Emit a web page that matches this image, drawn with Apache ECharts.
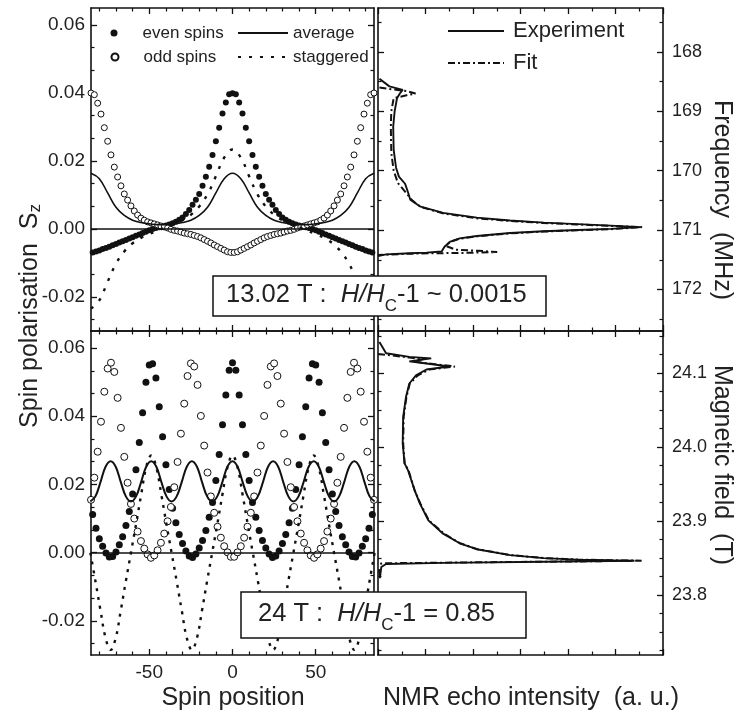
<!DOCTYPE html>
<html>
<head>
<meta charset="utf-8">
<script src="https://cdn.jsdelivr.net/npm/echarts@6/dist/echarts.min.js"></script>
<style>html,body{margin:0;padding:0;background:#fff;}#c{width:740px;height:719px;}</style>
</head>
<body>
<div id="c"></div>
<script>
// ---------------- DATA ----------------
const evenPos = [-84,-82,-80,-78,-76,-74,-72,-70,-68,-66,-64,-62,-60,-58,-56,-54,-52,-50,-48,-46,-44,-42,-40,-38,-36,-34,-32,-30,-28,-26,-24,-22,-20,-18,-16,-14,-12,-10,-8,-6,-4,-2,0,2,4,6,8,10,12,14,16,18,20,22,24,26,28,30,32,34,36,38,40,42,44,46,48,50,52,54,56,58,60,62,64,66,68,70,72,74,76,78,80,82,84];
const oddPos = [-85,-83,-81,-79,-77,-75,-73,-71,-69,-67,-65,-63,-61,-59,-57,-55,-53,-51,-49,-47,-45,-43,-41,-39,-37,-35,-33,-31,-29,-27,-25,-23,-21,-19,-17,-15,-13,-11,-9,-7,-5,-3,-1,1,3,5,7,9,11,13,15,17,19,21,23,25,27,29,31,33,35,37,39,41,43,45,47,49,51,53,55,57,59,61,63,65,67,69,71,73,75,77,79,81,83,85];

// 13.02 T panel
const topEven = [-0.0069,-0.0066,-0.0063,-0.0059,-0.0056,-0.0052,-0.0048,-0.0044,-0.0040,-0.0036,-0.0032,-0.0028,-0.0024,-0.0020,-0.0016,-0.0012,-0.0008,-0.0004,0.0000,0.0003,0.0005,0.0007,0.0010,0.0013,0.0017,0.0021,0.0027,0.0034,0.0044,0.0056,0.0071,0.0086,0.0103,0.0127,0.0154,0.0183,0.0218,0.0258,0.0298,0.0340,0.0372,0.0396,
  0.0399,
  0.0396,0.0372,0.0340,0.0298,0.0258,0.0218,0.0183,0.0154,0.0127,0.0103,0.0086,0.0071,0.0056,0.0044,0.0034,0.0027,0.0021,0.0017,0.0013,0.0010,0.0007,0.0005,0.0003,0.0000,-0.0004,-0.0008,-0.0012,-0.0016,-0.0020,-0.0024,-0.0028,-0.0032,-0.0036,-0.0040,-0.0044,-0.0048,-0.0052,-0.0056,-0.0059,-0.0063,-0.0066,-0.0069];
const topOdd = [0.0400,0.0395,0.0370,0.0338,0.0298,0.0258,0.0218,0.0182,0.0153,0.0127,0.0103,0.0085,0.0068,0.0053,0.0041,0.0032,0.0026,0.0021,0.0018,0.0015,0.0012,0.0009,0.0006,0.0003,-0.0001,-0.0004,-0.0006,-0.0009,-0.0012,-0.0014,-0.0016,-0.0019,-0.0022,-0.0026,-0.0031,-0.0036,-0.0041,-0.0047,-0.0052,-0.0057,-0.0062,-0.0067,-0.0069,
  -0.0069,-0.0067,-0.0062,-0.0057,-0.0052,-0.0047,-0.0041,-0.0036,-0.0031,-0.0026,-0.0022,-0.0019,-0.0016,-0.0014,-0.0012,-0.0009,-0.0006,-0.0004,-0.0001,0.0003,0.0006,0.0009,0.0012,0.0015,0.0018,0.0021,0.0026,0.0032,0.0041,0.0053,0.0068,0.0085,0.0103,0.0127,0.0153,0.0182,0.0218,0.0258,0.0298,0.0338,0.0370,0.0395,0.0400];
const topLineX = [-85,-80,-75,-70,-65,-60,-55,-50,-45,-40,-35,-30,-25,-20,-15,-10,-5,0,5,10,15,20,25,30,35,40,45,50,55,60,65,70,75,80,85];
const topAvg = [0.0164,0.0148,0.0106,0.0064,0.0040,0.0026,0.0019,0.0015,0.0013,0.0013,0.0015,0.0019,0.0026,0.0040,0.0064,0.0106,0.0148,0.0164,0.0148,0.0106,0.0064,0.0040,0.0026,0.0019,0.0015,0.0013,0.0013,0.0015,0.0019,0.0026,0.0040,0.0064,0.0106,0.0148,0.0164];
const topStag = [-0.0234,-0.0210,-0.0155,-0.0102,-0.0066,-0.0042,-0.0026,-0.0015,-0.0005,0.0005,0.0015,0.0026,0.0042,0.0066,0.0102,0.0155,0.0210,0.0234,0.0210,0.0155,0.0102,0.0066,0.0042,0.0026,0.0015,0.0005,-0.0005,-0.0015,-0.0026,-0.0042,-0.0066,-0.0102,-0.0155,-0.0210,-0.0234];

// 24 T panel
const botEven = [0.0112,0.0072,0.0041,0.0019,-0.0001,-0.0013,-0.0011,0.0002,0.0023,0.0047,0.0080,0.0121,0.0172,0.0243,0.0323,0.0410,0.0500,0.0550,0.0554,0.0512,0.0428,0.0340,0.0258,0.0185,0.0130,0.0088,0.0053,0.0027,0.0005,-0.0010,-0.0014,-0.0004,0.0014,0.0036,0.0065,0.0104,0.0147,0.0212,0.0288,0.0375,0.0462,0.0535,
  0.0557,
  0.0535,0.0462,0.0375,0.0288,0.0212,0.0147,0.0104,0.0065,0.0036,0.0014,-0.0004,-0.0014,-0.0010,0.0005,0.0027,0.0053,0.0088,0.0130,0.0185,0.0258,0.0340,0.0428,0.0512,0.0554,0.0550,0.0500,0.0410,0.0323,0.0243,0.0172,0.0121,0.0080,0.0047,0.0023,0.0002,-0.0011,-0.0013,-0.0001,0.0019,0.0041,0.0072,0.0112];
const botOdd = [0.0155,0.0220,0.0296,0.0384,0.0472,0.0540,0.0557,0.0530,0.0454,0.0366,0.0281,0.0205,0.0143,0.0100,0.0062,0.0034,0.0012,-0.0005,-0.0015,-0.0008,0.0007,0.0029,0.0056,0.0092,0.0134,0.0192,0.0266,0.0349,0.0437,0.0518,0.0555,0.0546,0.0492,0.0401,0.0314,0.0235,0.0165,0.0117,0.0076,0.0044,0.0019,0.0001,-0.0012,
  -0.0012,0.0001,0.0019,0.0044,0.0076,0.0117,0.0165,0.0235,0.0314,0.0401,0.0492,0.0546,0.0555,0.0518,0.0437,0.0349,0.0266,0.0192,0.0134,0.0092,0.0056,0.0029,0.0007,-0.0008,-0.0015,-0.0005,0.0012,0.0034,0.0062,0.0100,0.0143,0.0205,0.0281,0.0366,0.0454,0.0530,0.0557,0.0540,0.0472,0.0384,0.0296,0.0220,0.0155];
const botLineX = [-85.4,-82.35,-79.3,-76.25,-73.2,-70.15,-67.1,-64.05,-61,-57.95,-54.9,-51.85,-48.8,-45.75,-42.7,-39.65,-36.6,-33.55,-30.5,-27.45,-24.4,-21.35,-18.3,-15.25,-12.2,-9.15,-6.1,-3.05,0,3.05,6.1,9.15,12.2,15.25,18.3,21.35,24.4,27.45,30.5,33.55,36.6,39.65,42.7,45.75,48.8,51.85,54.9,57.95,61,64.05,67.1,70.15,73.2,76.25,79.3,82.35,85.4];
const botAvg = [0.0150,0.0165,0.0207,0.0252,0.0268,0.0252,0.0207,0.0165,0.0150,0.0165,0.0207,0.0252,0.0268,0.0252,0.0207,0.0165,0.0150,0.0165,0.0207,0.0252,0.0268,0.0252,0.0207,0.0165,0.0150,0.0165,0.0207,0.0252,0.0268,0.0252,0.0207,0.0165,0.0150,0.0165,0.0207,0.0252,0.0268,0.0252,0.0207,0.0165,0.0150,0.0165,0.0207,0.0252,0.0268,0.0252,0.0207,0.0165,0.0150,0.0165,0.0207,0.0252,0.0268,0.0252,0.0207,0.0165,0.0150];
const botStag = [0,-0.0083,-0.0169,-0.0250,-0.0285,-0.0250,-0.0169,-0.0083,0,0.0083,0.0169,0.0250,0.0285,0.0250,0.0169,0.0083,0,-0.0083,-0.0169,-0.0250,-0.0285,-0.0250,-0.0169,-0.0083,0,0.0083,0.0169,0.0250,0.0285,0.0250,0.0169,0.0083,0,-0.0083,-0.0169,-0.0250,-0.0285,-0.0250,-0.0169,-0.0083,0,0.0083,0.0169,0.0250,0.0285,0.0250,0.0169,0.0083,0,-0.0083,-0.0169,-0.0250,-0.0285,-0.0250,-0.0169,-0.0083,0];

// NMR spectra (intensity in a.u., frequency in MHz / field in T)
const freqExp = [168.45,168.58,168.64,168.70,168.78,169.00,169.26,169.65,169.95,170.10,170.22,170.36,170.49,170.60,170.71,170.79,170.84,170.875,170.90,170.925,170.95,170.98,171.00,171.02,171.05,171.10,171.14,171.20,171.28,171.36,171.38,171.39,171.41,171.44];
const intExp  = [0.03,0.24,0.52,0.46,0.40,0.35,0.32,0.33,0.38,0.44,0.57,0.63,0.68,0.88,1.37,2.08,2.78,3.49,4.20,4.90,5.54,4.90,4.20,3.49,2.78,2.08,1.72,1.51,1.40,1.34,1.02,0.67,0.17,0];
const freqFit = [168.60,168.63,168.66,168.70,168.73,168.78,169.00,169.26,169.70,170.00,170.21,170.41,170.50,170.61,170.72,170.80,170.845,170.88,170.905,170.93,170.95,170.985,171.005,171.025,171.055,171.105,171.145,171.20,171.27,171.33,171.35,171.37,171.385,171.39,171.40,171.42];
const intFit  = [0.03,0.30,0.60,0.79,0.60,0.33,0.28,0.27,0.28,0.33,0.42,0.63,0.72,0.90,1.38,2.06,2.76,3.47,4.18,4.90,5.56,4.90,4.20,3.49,2.78,2.08,1.72,1.51,1.44,1.63,2.12,2.51,1.80,1.20,0.60,0];
const fieldExp = [24.142,24.127,24.122,24.120,24.116,24.113,24.109,24.105,24.097,24.086,24.068,24.041,24.005,23.978,23.969,23.942,23.924,23.901,23.883,23.870,23.862,23.854,23.850,23.848,23.847,23.8465,23.845,23.8435,23.842,23.838,23.823,23.835];
const intExpB  = [0.03,0.17,0.66,1.12,0.66,1.02,1.50,1.02,0.80,0.66,0.59,0.53,0.52,0.56,0.63,0.77,0.88,1.06,1.37,1.72,2.08,2.78,3.49,4.20,4.90,5.40,3.49,1.37,0.17,0.07,0.04,0.02];
const fieldFit = [24.126,24.124,24.121,24.119,24.116,24.113,24.109,24.105,24.097,24.086,24.068,24.041,24.005,23.978,23.969,23.942,23.924,23.901,23.883,23.870,23.862,23.854,23.850,23.848,23.847,23.8465,23.8455,23.8445,23.8435,23.843,23.842];
const intFitB  = [0,0.30,0.66,0.96,0.72,1.08,1.62,1.08,0.84,0.67,0.60,0.54,0.53,0.56,0.64,0.77,0.89,1.07,1.39,1.73,2.09,2.80,3.50,4.21,4.91,5.55,4.20,2.40,0.90,0.12,0];

// tick values
const spinMajor = [-50,0,50];
const spinMinor = [-80,-70,-60,-40,-30,-20,-10,10,20,30,40,60,70,80];
const polMajor = [-0.02,0,0.02,0.04,0.06];
const polMinor = [-0.02667,-0.01333,-0.00667,0.00667,0.01333,0.02667,0.03333,0.04667,0.05333];
const freqMajor = [168,169,170,171,172];
const freqMinor = [167.5,168.5,169.5,170.5,171.5,172.5];
const fieldMajor = [23.8,23.9,24.0,24.1];
const fieldMinor = [23.725,23.75,23.775,23.825,23.85,23.875,23.925,23.95,23.975,24.025,24.05,24.075,24.125,24.15];
const intMajor = [0,1,2,3,4,5,6];
const intMinor = [0.5,1.5,2.5,3.5,4.5,5.5];

// ---------------- LAYOUT / STYLE ----------------
const FONT = '"Liberation Sans", Arial, Helvetica, sans-serif';
const INK = '#111';
const zip = (a, b) => a.map((v, i) => [v, b[i]]);

const grids = [
  {left: 91, top: 8, width: 283, height: 323},
  {left: 91, top: 331, width: 283, height: 324},
  {left: 378, top: 8, width: 285, height: 323},
  {left: 378, top: 331, width: 285, height: 324}
].map(g => Object.assign({containLabel: false, outerBoundsMode: 'none'}, g));

const xAxes = [], yAxes = [];
function addAxis(list, gridIndex, position, min, max, major, minor, lab) {
  const idx = list.length;
  list.push({
    type: 'value', gridIndex, position, min, max, inverse: !!(lab && lab.inverse),
    axisLine: {show: true, onZero: false, lineStyle: {color: INK, width: 1.6}},
    axisTick: {show: true, inside: true, length: 6, customValues: major, lineStyle: {color: INK, width: 1.3}},
    axisLabel: {show: !!(lab && lab.show), customValues: major,
      formatter: lab && lab.fmt, fontSize: lab && lab.size, margin: lab && lab.margin,
      color: '#222', fontFamily: FONT},
    splitLine: {show: false}, axisPointer: {show: false}
  });
  list.push({
    type: 'value', gridIndex, position, min, max, inverse: !!(lab && lab.inverse),
    axisLine: {show: false, onZero: false},
    axisTick: {show: true, inside: true, length: 3.5, customValues: minor, lineStyle: {color: INK, width: 1.2}},
    axisLabel: {show: false}, splitLine: {show: false}
  });
  return idx;
}
const polFmt = v => v.toFixed(2);
// grid 0 : top-left
const xTL = addAxis(xAxes, 0, 'bottom', -85, 85, spinMajor, spinMinor);
addAxis(xAxes, 0, 'top', -85, 85, spinMajor, spinMinor);
const yTL = addAxis(yAxes, 0, 'left', -0.03, 0.065, polMajor, polMinor, {show: true, fmt: polFmt, size: 19, margin: 6});
addAxis(yAxes, 0, 'right', -0.03, 0.065, polMajor, polMinor);
// grid 1 : bottom-left
const xBL = addAxis(xAxes, 1, 'bottom', -85, 85, spinMajor, spinMinor, {show: true, fmt: v => String(v), size: 19, margin: 8});
addAxis(xAxes, 1, 'top', -85, 85, spinMajor, spinMinor);
const yBL = addAxis(yAxes, 1, 'left', -0.03, 0.065, polMajor, polMinor, {show: true, fmt: polFmt, size: 19, margin: 6});
addAxis(yAxes, 1, 'right', -0.03, 0.065, polMajor, polMinor);
// grid 2 : top-right
const xTR = addAxis(xAxes, 2, 'bottom', 0, 6, intMajor, intMinor);
addAxis(xAxes, 2, 'top', 0, 6, intMajor, intMinor);
const yTR = addAxis(yAxes, 2, 'right', 167.26, 172.70, freqMajor, freqMinor, {show: true, fmt: v => String(v), size: 18, margin: 9, inverse: true});
addAxis(yAxes, 2, 'left', 167.26, 172.70, freqMajor, freqMinor, {inverse: true});
// grid 3 : bottom-right
const xBR = addAxis(xAxes, 3, 'bottom', 0, 6, intMajor, intMinor);
addAxis(xAxes, 3, 'top', 0, 6, intMajor, intMinor);
const yBR = addAxis(yAxes, 3, 'right', 23.719, 24.157, fieldMajor, fieldMinor, {show: true, fmt: v => v.toFixed(1), size: 18, margin: 9});
addAxis(yAxes, 3, 'left', 23.719, 24.157, fieldMajor, fieldMinor);

const zeroLine = {silent: true, symbol: ['none', 'none'], label: {show: false}, animation: false,
  lineStyle: {color: INK, width: 1.6, type: 'solid', opacity: 1}, data: [{yAxis: 0}]};

function spinSeries(xi, yi, even, odd, lx, avg, stag, dot, stagDash, avgW) {
  return [
    {name: 'average', type: 'line', xAxisIndex: xi, yAxisIndex: yi, data: zip(lx, avg), smooth: 0.4,
      symbol: 'none', itemStyle: {color: INK}, lineStyle: {color: INK, width: avgW}, markLine: zeroLine, emphasis: {disabled: true}},
    {name: 'staggered', type: 'line', xAxisIndex: xi, yAxisIndex: yi, data: zip(lx, stag), smooth: 0.4,
      symbol: 'none', itemStyle: {color: INK}, lineStyle: {color: INK, width: 2.4, type: stagDash}, emphasis: {disabled: true}},
    {name: 'even spins', type: 'scatter', xAxisIndex: xi, yAxisIndex: yi, data: zip(evenPos, even),
      symbolSize: dot, clip: false, itemStyle: {color: INK, opacity: 1}, emphasis: {disabled: true}},
    {name: 'odd spins', type: 'scatter', xAxisIndex: xi, yAxisIndex: yi, data: zip(oddPos, odd),
      symbolSize: dot, clip: false, itemStyle: {color: '#fff', borderColor: INK, borderWidth: 1, opacity: 1}, emphasis: {disabled: true}}
  ];
}
function nmrSeries(xi, yi, iFit, yFit, iExp, yExp) {
  return [
    {name: 'Fit', type: 'line', xAxisIndex: xi, yAxisIndex: yi, data: zip(iFit, yFit), symbol: 'none',
      itemStyle: {color: INK}, lineStyle: {color: INK, width: 2, type: [7, 3, 2, 3]}, emphasis: {disabled: true}},
    {name: 'Experiment', type: 'line', xAxisIndex: xi, yAxisIndex: yi, data: zip(iExp, yExp), symbol: 'none',
      itemStyle: {color: INK}, lineStyle: {color: INK, width: 1.9}, emphasis: {disabled: true}}
  ];
}

const series = [].concat(
  spinSeries(xTL, yTL, topEven, topOdd, topLineX, topAvg, topStag, 6, [3, 8], 1.6),
  spinSeries(xBL, yBL, botEven, botOdd, botLineX, botAvg, botStag, 7, [3, 6], 2),
  nmrSeries(xTR, yTR, intFit, freqFit, intExp, freqExp),
  nmrSeries(xBR, yBR, intFitB, fieldFit, intExpB, fieldExp)
);

function leg(name, left, top, w, h, size, pad, isLine) {
  const l = {data: [name], left, top, padding: 0, itemWidth: w, itemHeight: h, selectedMode: false,
    textStyle: {fontSize: size, fontFamily: FONT, color: '#222', padding: [0, 0, 0, pad]}};
  if (isLine) l.itemStyle = {color: 'rgba(0,0,0,0)', borderWidth: 0, opacity: 0};
  return l;
}
const legends = [
  leg('even spins', 110.5, 24.5, 7, 7, 17, 20),
  leg('odd spins', 110.5, 48.5, 7, 7, 17, 20),
  leg('average', 237, 24.5, 50, 12, 17, 0, true),
  leg('staggered', 237, 48.5, 50, 12, 17, 0, true),
  leg('Experiment', 447, 20, 56, 14, 22, 4, true),
  leg('Fit', 447, 52, 56, 14, 22, 4, true)
];

const t = (x, y, text, size, rot, rich) => ({type: 'text', x, y, rotation: rot || 0, z: 100,
  style: {text, fontSize: size, fontFamily: FONT, fill: '#222', align: 'center', verticalAlign: 'middle', rich}});
const boxRich = {
  n: {fontSize: 25.5, fontFamily: FONT, color: '#222', lineHeight: 30},
  i: {fontSize: 25.5, fontFamily: FONT, color: '#222', fontStyle: 'italic', lineHeight: 30},
  s: {fontSize: 17, fontFamily: FONT, color: '#222', lineHeight: 30, padding: [22, 0, 0, 0]}
};
const graphics = [
  t(233, 698, 'Spin position', 25),
  t(531, 698, 'NMR echo intensity  (a. u.)', 25),
  t(30, 316, '{n|Spin polarisation  S}{s|z}', 25, Math.PI / 2, {
    n: {fontSize: 25, fontFamily: FONT, color: '#222', lineHeight: 30},
    s: {fontSize: 17, fontFamily: FONT, color: '#222', lineHeight: 30, padding: [10, 0, 0, 0]}
  }),
  t(722, 200, 'Frequency  (MHz)', 25, -Math.PI / 2),
  t(722, 465, 'Magnetic field  (T)', 25, -Math.PI / 2),
  {type: 'rect', z: 100, shape: {x: 213, y: 276, width: 333, height: 40},
    style: {fill: '#fff', stroke: INK, lineWidth: 1.5}},
  {type: 'text', z: 101, x: 226, y: 295,
    style: {text: '{n|13.02 T :  }{i|H/H}{s|C}{n|-1 ~ 0.0015}', rich: boxRich, align: 'left', verticalAlign: 'middle', fill: '#222'}},
  {type: 'rect', z: 100, shape: {x: 241, y: 592, width: 285, height: 46},
    style: {fill: '#fff', stroke: INK, lineWidth: 1.5}},
  {type: 'text', z: 101, x: 258, y: 614,
    style: {text: '{n|24 T :  }{i|H/H}{s|C}{n|-1 = 0.85}', rich: boxRich, align: 'left', verticalAlign: 'middle', fill: '#222'}}
];

const chart = echarts.init(document.getElementById('c'), null, {renderer: 'canvas'});
chart.setOption({
  backgroundColor: '#fff',
  animation: false,
  textStyle: {fontFamily: FONT},
  grid: grids,
  xAxis: xAxes,
  yAxis: yAxes,
  legend: legends,
  tooltip: {show: false},
  series,
  graphic: graphics
});
</script>
</body>
</html>
